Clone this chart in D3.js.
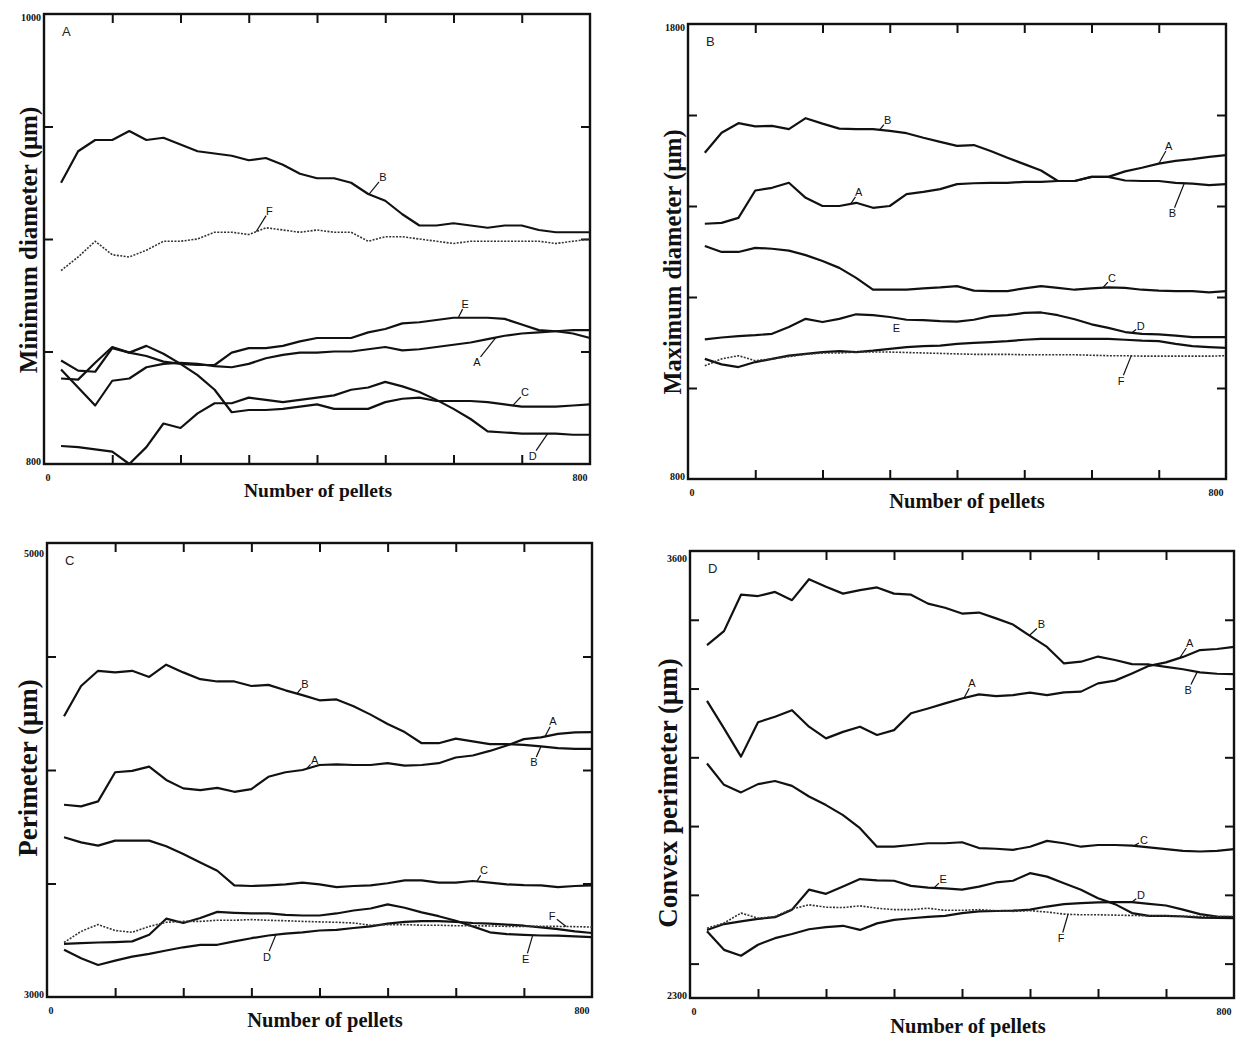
<!DOCTYPE html>
<html>
<head>
<meta charset="utf-8">
<script src="https://cdn.jsdelivr.net/npm/d3@7"></script>
<style>
  body { margin: 0; background: #fff; }
  svg { display: block; }
</style>
</head>
<body>
<svg id="chart" width="1236" height="1037"></svg>
<script>
// number of pellets (x) shared by every series
const pellets = [25, 50, 75, 100, 125, 150, 175, 200, 225, 250, 275, 300, 325, 350, 375, 400,
                 425, 450, 475, 500, 525, 550, 575, 600, 625, 650, 675, 700, 725, 750, 775, 800];
const xTicks = [100, 200, 300, 400, 500, 600, 700];

// panel A - minimum diameter (um)
const minA = [842, 834, 826, 837, 838, 843, 844.5, 845, 844.5, 843.5, 843, 844.5, 847, 848.5, 849.5, 849.5,
              850, 850, 851, 852, 850.5, 851, 852, 853, 854, 855.5, 857, 858, 858.5, 859, 859.5, 859.5];
const minB = [925, 939, 944, 944, 948, 944, 945, 942, 939, 938, 937, 935, 936, 933, 929, 927,
              927, 925, 920, 917, 911, 906, 906, 907, 906, 905, 906, 906, 904, 903, 903, 903];
const minC = [838, 837.5, 845, 852, 849.5, 852.5, 849, 844.5, 839.5, 833, 823, 824, 824, 824.5, 825.5, 826.5,
              824.5, 824.5, 824.5, 827.5, 829, 829.5, 828, 828, 828, 827.5, 826.5, 825.5, 825.5, 825.5, 826, 826.5];
const minD = [808, 807.5, 806.5, 805.5, 800, 807.5, 818, 816, 822.5, 827, 827, 829.5, 828.5, 827.5, 828.5, 829.5,
              830.5, 833, 834, 836.5, 834.5, 832, 828.5, 824.5, 820, 814.5, 814, 813.5, 813.5, 813.5, 813, 813];
const minE = [846, 841.5, 841, 851.5, 849.5, 848, 845.5, 844.5, 844, 844, 849.5, 851.5, 851.5, 852.5, 854.5, 856,
              856, 856, 858.5, 860, 862.5, 863, 864, 865, 865, 865, 864.5, 862, 859.5, 859, 858, 856];
const minF = [886, 892, 899, 893, 892, 895, 899, 899, 900, 903, 903, 902, 905, 904, 903, 904,
              903, 903, 899, 901, 901, 900, 899, 898, 899, 899, 899, 899, 899, 898, 899, 900];
const minTicks = [850, 900, 950];

// panel B - maximum diameter (um)
const maxA = [1361, 1363, 1374, 1434, 1440, 1451, 1418, 1400, 1400, 1407, 1396, 1400, 1426, 1431, 1437, 1448,
              1450, 1451, 1451, 1453, 1453, 1455, 1455, 1464, 1464, 1476, 1484, 1493, 1499, 1503, 1508, 1512];
const maxB = [1517, 1561, 1582, 1575, 1576, 1569, 1593, 1581, 1570, 1569, 1569, 1565, 1560, 1550, 1541, 1532,
              1534, 1521, 1506, 1492, 1478, 1455, 1455, 1464, 1464, 1456, 1455, 1455, 1451, 1449, 1446, 1448];
const maxC = [1312, 1299, 1299, 1308, 1306, 1302, 1292, 1279, 1264, 1242, 1216, 1216, 1216, 1219, 1221, 1224,
              1214, 1213, 1213, 1219, 1224, 1220, 1216, 1219, 1221, 1220, 1216, 1214, 1213, 1213, 1210, 1213];
const maxD = [1107, 1111, 1114, 1116, 1119, 1134, 1152, 1145, 1152, 1162, 1160, 1156, 1150, 1149, 1147, 1146,
              1150, 1158, 1160, 1165, 1166, 1160, 1151, 1140, 1132, 1123, 1119, 1118, 1115, 1112, 1112, 1112];
const maxE = [1064, 1052, 1046, 1057, 1064, 1071, 1075, 1079, 1081, 1079, 1082, 1086, 1090, 1092, 1093, 1097,
              1099, 1101, 1103, 1106, 1108, 1108, 1108, 1108, 1108, 1106, 1104, 1103, 1097, 1092, 1090, 1088];
const maxF = [1049, 1064, 1071, 1060, 1064, 1069, 1074, 1077, 1077, 1079, 1079, 1079, 1078, 1077, 1076, 1075,
              1074, 1074, 1074, 1073, 1073, 1073, 1073, 1072, 1071, 1071, 1070, 1070, 1070, 1070, 1070, 1071];
const maxTicks = [1000, 1200, 1400, 1600];

// panel C - perimeter (um)
const perA = [3847, 3840, 3862, 3990, 3996, 4015, 3956, 3919, 3911, 3921, 3904, 3916, 3970, 3990, 4000, 4022,
              4025, 4022, 4022, 4030, 4019, 4022, 4030, 4055, 4064, 4084, 4108, 4136, 4144, 4159, 4166, 4167];
const perB = [4237, 4370, 4437, 4430, 4437, 4410, 4464, 4430, 4400, 4390, 4390, 4370, 4375, 4351, 4330, 4307,
              4311, 4281, 4244, 4203, 4167, 4118, 4118, 4138, 4126, 4114, 4114, 4111, 4104, 4096, 4093, 4093];
const perC = [3704, 3681, 3667, 3689, 3689, 3689, 3664, 3630, 3593, 3556, 3492, 3489, 3492, 3496, 3504, 3496,
              3484, 3489, 3492, 3501, 3514, 3514, 3504, 3504, 3511, 3504, 3496, 3493, 3492, 3484, 3489, 3492];
const perD = [3208, 3171, 3141, 3160, 3178, 3190, 3205, 3219, 3230, 3230, 3245, 3259, 3271, 3279, 3285, 3293,
              3296, 3304, 3311, 3323, 3331, 3334, 3334, 3331, 3326, 3323, 3319, 3314, 3307, 3299, 3289, 3282];
const perE = [3234, 3237, 3240, 3242, 3245, 3274, 3345, 3326, 3348, 3375, 3371, 3368, 3368, 3362, 3359, 3359,
              3368, 3381, 3390, 3408, 3393, 3373, 3356, 3336, 3311, 3285, 3277, 3274, 3271, 3270, 3267, 3264];
const perF = [3240, 3289, 3319, 3293, 3285, 3311, 3329, 3333, 3333, 3338, 3338, 3341, 3338, 3336, 3333, 3331,
              3329, 3326, 3316, 3319, 3319, 3316, 3316, 3314, 3314, 3313, 3311, 3311, 3311, 3311, 3310, 3308];
const perTicks = [3500, 4000, 4500];

// panel D - convex perimeter (um)
const cvxA = [3164, 3084, 3002, 3102, 3118, 3137, 3089, 3055, 3074, 3089, 3065, 3079, 3128, 3142, 3157, 3171,
              3183, 3178, 3181, 3188, 3181, 3189, 3191, 3215, 3223, 3244, 3266, 3276, 3292, 3312, 3315, 3321];
const cvxB = [3326, 3367, 3473, 3469, 3481, 3457, 3518, 3496, 3476, 3486, 3494, 3476, 3473, 3447, 3435, 3418,
              3421, 3404, 3386, 3353, 3321, 3273, 3278, 3293, 3283, 3271, 3270, 3263, 3256, 3247, 3243, 3242];
const cvxC = [2982, 2920, 2898, 2922, 2931, 2917, 2886, 2861, 2832, 2794, 2740, 2740, 2745, 2750, 2750, 2753,
              2736, 2734, 2731, 2740, 2757, 2750, 2740, 2745, 2745, 2743, 2738, 2733, 2728, 2726, 2728, 2733];
const cvxD = [2494, 2440, 2423, 2455, 2474, 2486, 2500, 2506, 2510, 2498, 2517, 2527, 2532, 2536, 2539, 2547,
              2552, 2553, 2554, 2557, 2566, 2573, 2576, 2578, 2579, 2579, 2574, 2569, 2557, 2544, 2537, 2535];
const cvxE = [2498, 2515, 2523, 2530, 2535, 2557, 2615, 2603, 2624, 2646, 2642, 2641, 2626, 2621, 2619, 2615,
              2624, 2636, 2641, 2663, 2653, 2634, 2615, 2590, 2573, 2547, 2539, 2539, 2537, 2534, 2533, 2532];
const cvxF = [2503, 2518, 2547, 2532, 2537, 2559, 2571, 2564, 2563, 2568, 2561, 2557, 2557, 2561, 2555, 2555,
              2557, 2554, 2552, 2554, 2550, 2544, 2542, 2542, 2541, 2540, 2539, 2539, 2538, 2537, 2537, 2537];
const cvxTicks = [2400, 2600, 2800, 3000, 3200, 3400];

// curve letters: which series, at which pellet count the leader touches it, offset of the letter
const labelsA = [['B', 476, 14, -17], ['F', 311, 13, -21], ['E', 607, 7, -14], ['A', 662, -19, 24],
                 ['C', 687, 12, -13], ['D', 738, -15, 22]];
const labelsB = [['B', 285, 8, -10], ['A', 242, 8, -12], ['A', 700, 10, -18], ['B', 738, -12, 30],
                 ['C', 617, 9, -10], ['D', 660, 9, -7], ['E', 310, 0, -20, false], ['F', 659, -10, 25]];
const labelsC = [['B', 367, 8, -10], ['A', 381, 8, -9], ['A', 731, 8, -15], ['B', 725, -7, 16],
                 ['C', 631, 7, -11], ['D', 336, -9, 22], ['E', 713, -7, 24], ['F', 762, -14, -11]];
const labelsD = [['B', 499, 12, -11], ['A', 403, 8, -15], ['A', 720, 10, -15], ['B', 746, -9, 18],
                 ['C', 653, 10, -6], ['E', 359, 9, -9], ['D', 650, 9, -7], ['F', 556, -7, 24]];

const serif = '"Liberation Serif","Times New Roman",Times,serif';
const sans = '"Liberation Sans",Arial,Helvetica,sans-serif';

const panels = [
  { letter: 'A', title: 'Minimum diameter (\u03bcm)', titleSize: 25, titleX: 37, titleY: 240,
    yDomain: [800, 1000], yTicks: minTicks, l: 44, r: 590, t: 14, b: 464, topLabDy: 7,
    xTitleX: 318, xTitleY: 497, xTitleSize: 19.5,
    series: { A: minA, B: minB, C: minC, D: minD, E: minE, F: minF }, labels: labelsA },
  { letter: 'B', title: 'Maximum diameter (\u03bcm)', titleSize: 24.5, titleX: 681, titleY: 262,
    yDomain: [800, 1800], yTicks: maxTicks, l: 688, r: 1226, t: 24, b: 479, topLabDy: 7,
    xTitleX: 967, xTitleY: 508, xTitleSize: 20.5,
    series: { A: maxA, B: maxB, C: maxC, D: maxD, E: maxE, F: maxF }, labels: labelsB },
  { letter: 'C', title: 'Perimeter (\u03bcm)', titleSize: 27, titleX: 37, titleY: 768,
    yDomain: [3000, 5000], yTicks: perTicks, l: 47, r: 592, t: 543, b: 997, topLabDy: 14,
    xTitleX: 325, xTitleY: 1027, xTitleSize: 20.5,
    series: { A: perA, B: perB, C: perC, D: perD, E: perE, F: perF }, labels: labelsC },
  { letter: 'D', title: 'Convex perimeter (\u03bcm)', titleSize: 27, titleX: 677, titleY: 793,
    yDomain: [2300, 3600], yTicks: cvxTicks, l: 690, r: 1234, t: 551, b: 998, topLabDy: 11,
    xTitleX: 968, xTitleY: 1033, xTitleSize: 20.5,
    series: { A: cvxA, B: cvxB, C: cvxC, D: cvxD, E: cvxE, F: cvxF }, labels: labelsD }
];

const svg = d3.select('#chart');
svg.append('rect').attr('width', 1236).attr('height', 1037).attr('fill', '#fff');

panels.forEach(p => {
  const g = svg.append('g');
  const x = d3.scaleLinear().domain([0, 800]).range([p.l, p.r]);
  const y = d3.scaleLinear().domain(p.yDomain).range([p.b, p.t]);

  const inward = (sel) => {
    sel.select('.domain').remove();
    sel.selectAll('line').attr('stroke', '#111').attr('stroke-width', 2);
  };
  g.append('g').attr('transform', `translate(0,${p.b})`)
    .call(d3.axisBottom(x).tickValues(xTicks).tickSize(-9).tickFormat('')).call(inward);
  g.append('g').attr('transform', `translate(0,${p.t})`)
    .call(d3.axisTop(x).tickValues(xTicks).tickSize(-9).tickFormat('')).call(inward);
  g.append('g').attr('transform', `translate(${p.l},0)`)
    .call(d3.axisLeft(y).tickValues(p.yTicks).tickSize(-9).tickFormat('')).call(inward);
  g.append('g').attr('transform', `translate(${p.r},0)`)
    .call(d3.axisRight(y).tickValues(p.yTicks).tickSize(-9).tickFormat('')).call(inward);

  g.append('rect')
    .attr('x', p.l).attr('y', p.t)
    .attr('width', p.r - p.l).attr('height', p.b - p.t)
    .attr('fill', 'none').attr('stroke', '#111').attr('stroke-width', 2.4);

  // end values only, as in the original
  const endLab = (tx, ty, txt, anchor) => g.append('text')
    .attr('x', tx).attr('y', ty).attr('text-anchor', anchor)
    .attr('font-family', serif).attr('font-weight', 'bold').attr('font-size', 10)
    .attr('fill', '#111').text(txt);
  endLab(p.l - 3, y(p.yDomain[1]) + p.topLabDy, p.yDomain[1], 'end');
  endLab(p.l - 3, p.b + 1, p.yDomain[0], 'end');
  endLab(x(0) + 4, p.b + 17, '0', 'middle');
  endLab(x(800) - 10, p.b + 17, '800', 'middle');

  g.append('text')
    .attr('transform', `translate(${p.titleX},${p.titleY}) rotate(-90)`)
    .attr('text-anchor', 'middle')
    .attr('font-family', serif).attr('font-weight', 'bold').attr('font-size', p.titleSize)
    .attr('fill', '#111').text(p.title);
  g.append('text')
    .attr('x', p.xTitleX).attr('y', p.xTitleY).attr('text-anchor', 'middle')
    .attr('font-family', serif).attr('font-weight', 'bold').attr('font-size', p.xTitleSize)
    .attr('fill', '#111').text('Number of pellets');

  g.append('text')
    .attr('x', x(0) + 18).attr('y', p.t + 22)
    .attr('font-family', sans).attr('font-size', 13).attr('fill', '#222')
    .text(p.letter);

  const line = d3.line()
    .x((d, i) => x(pellets[i]))
    .y(d => y(d));

  Object.entries(p.series).forEach(([key, vals]) => {
    const dotted = key === 'F';
    g.append('path')
      .datum(vals)
      .attr('d', line)
      .attr('fill', 'none')
      .attr('stroke', dotted ? '#333' : '#111')
      .attr('stroke-width', dotted ? 1.6 : 2.2)
      .attr('stroke-dasharray', dotted ? '2,1.4' : null)
      .attr('stroke-linejoin', 'round');
  });

  const valueAt = (vals, pel) => {
    const i = Math.max(0, Math.min(pellets.length - 2, Math.floor(pel / 25) - 1));
    const f = (pel - pellets[i]) / 25;
    return vals[i] + (vals[i + 1] - vals[i]) * f;
  };

  p.labels.forEach(([key, pel, dx, dy, leader]) => {
    const cx = x(pel), cy = y(valueAt(p.series[key], pel));
    const len = Math.hypot(dx, dy);
    if (leader !== false) {
      const k = (len - 6) / len;
      g.append('line')
        .attr('x1', cx).attr('y1', cy)
        .attr('x2', cx + dx * k).attr('y2', cy + dy * k)
        .attr('stroke', '#111').attr('stroke-width', 1.2);
    }
    g.append('text')
      .attr('x', cx + dx).attr('y', cy + dy + 4)
      .attr('text-anchor', 'middle')
      .attr('font-family', sans).attr('font-size', 11).attr('fill', '#111')
      .text(key);
  });
});
</script>
</body>
</html>
